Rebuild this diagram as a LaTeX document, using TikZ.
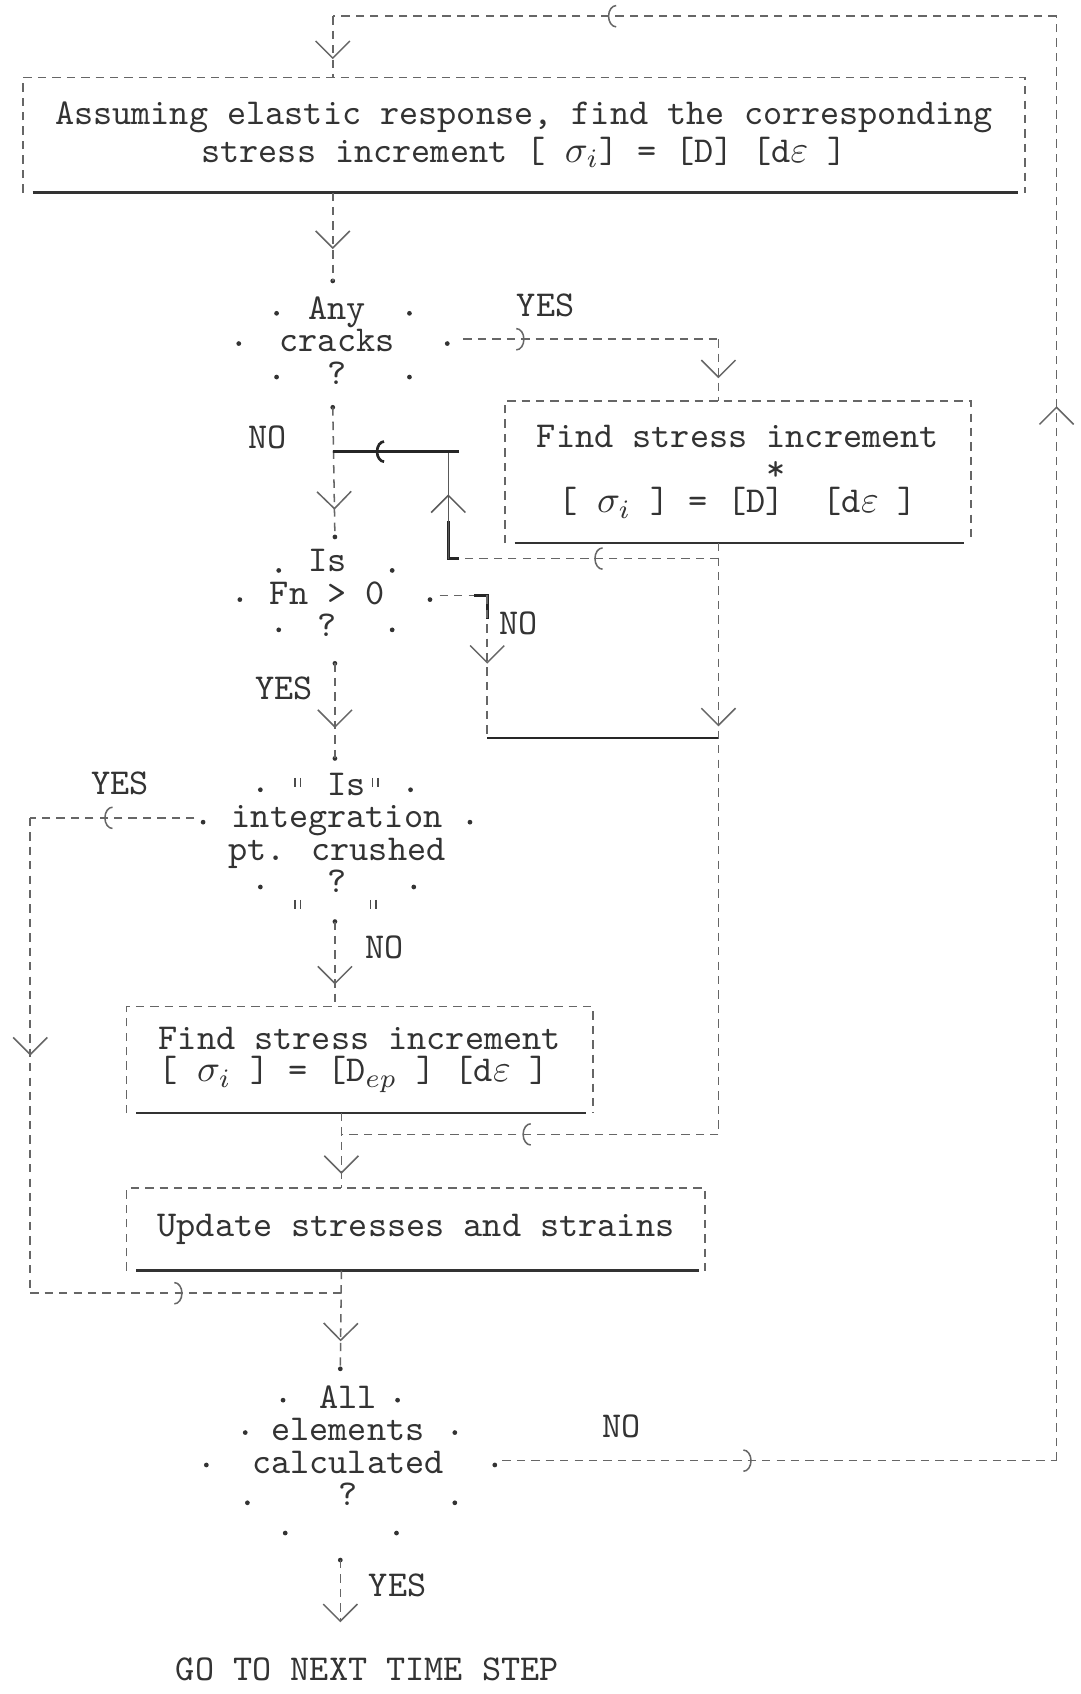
\documentclass[tikz,border=0pt]{standalone}
\usepackage{amsmath,amssymb}
\usepackage{fontspec}
\usetikzlibrary{arrows.meta,decorations.markings}

\tikzset{
  txt/.style={font=\ttfamily\fontsize{9.6}{8.54}\selectfont, text=black!80, inner sep=0pt},
  procbox/.style={txt, align=center},
  link/.style={draw=black!60, line width=0.4pt, dash pattern=on 2.2pt off 1.6pt},
  pen/.style={draw=black!85, line width=0.7pt},
  bar/.style={draw=black!65, line width=0.4pt},
  base/.style={draw=black!80, line width=0.7pt},
  varr/.style={postaction={decorate,decoration={markings,mark=at position #1 with {\arrow{Straight Barb[length=4.5pt,width=9pt]}}}}},
  harr/.style={postaction={decorate,decoration={markings,mark=at position #1 with {\arrow{Arc Barb[length=2.2pt,width=6pt]}}}}},
}
\newcommand\procframe[1]{%
  \draw[link] (#1.south west) -- (#1.north west) -- (#1.north east) -- (#1.south east);
  \draw[base] ([xshift=0.9mm]#1.south west) -- ([xshift=-0.6mm]#1.south east);}

\begin{document}
\begin{tikzpicture}[x=0.1mm, y=-0.1mm]
  \path[fill=white] (0,0) rectangle (1000,1568); \useasboundingbox (0,0) rectangle (1000,1568);
  % boxes
  \node[procbox, minimum width=92.6mm, minimum height=10.5mm] (elastic) at (485,125) {Assuming elastic response, find the corresponding\\stress increment [ $\sigma_i$] = [D] [d$\varepsilon$ ]};
  \node[procbox, minimum width=43mm, minimum height=13mm] (crackbox) at (683,437) {Find stress increment\\\phantom{0000}*\\{[} $\sigma_i$ ] = [D]~~[d$\varepsilon$ ]};
  \node[procbox, align=left, minimum width=43mm, minimum height=9.7mm] (plastic) at (333,981) {Find stress increment\\{[} $\sigma_i$ ] = [D$_{ep}$ ] [d$\varepsilon$ ]};
  \node[procbox, minimum width=53.4mm, minimum height=7.5mm] (update) at (385,1138) {Update stresses and strains};
  \procframe{elastic} \procframe{crackbox} \procframe{plastic} \procframe{update}
  % decisions
  \node[procbox] (crack) at (312,315) {Any\\cracks\\?};
  \node[procbox] (fn) at (303,549) {Is\\Fn > 0\\?};
  \node[procbox] (crushed) at (312,771) {\phantom{x}Is\\integration\\pt. crushed\\?};
  \node[procbox] (done) at (322,1338) {All\\elements\\calculated\\?};
  \foreach \p in {(308,260),(256,290),(379,290),(221,318),(414,318),(256,349),(379,349),(308,377),
                  (310,497),(258,528),(363,528),(222,555),(398,555),(258,583),(363,583),(310,614),
                  (310,702),(241,731),(380,731),(188,761),(435,761),(241,821),(383,821),(310,853),
                  (315,1267),(262,1296),(368,1296),(227,1326),(421,1326),(191,1356),(458,1356),
                  (229,1391),(421,1391),(264,1419),(367,1419),(315,1444)}
    \fill[black!80] \p circle (0.22mm);
  \foreach \q in {(275,725),(347,725),(275,838),(345,838)}
    \draw[black!70, line width=0.35pt] \q ++(-2,-5) -- ++(0,8) ++(5,-8) -- ++(0,8);
  % labels
  \node[txt] (yes-crack) at (505,283) {YES};
  \node[txt] (no-crack) at (248,405) {NO};
  \node[txt] (no-fn) at (480,577) {NO};
  \node[txt] (yes-fn) at (263,637) {YES};
  \node[txt] (yes-crush) at (111,725) {YES};
  \node[txt] (no-crush) at (356,877) {NO};
  \node[txt] (no-done) at (575,1320) {NO};
  \node[txt] (yes-done) at (368,1467) {YES};
  \node[txt] (next) at (340,1545) {GO TO NEXT TIME STEP};
  % points where the connectors leave the decisions
  \coordinate (crack-in) at (308,260); \coordinate (crack-yes) at (429,314); \coordinate (crack-no) at (308,377);
  \coordinate (fn-in) at (310,497); \coordinate (fn-no) at (407,551); \coordinate (fn-yes) at (310,614);
  \coordinate (crush-in) at (310,702); \coordinate (crush-yes) at (180,757); \coordinate (crush-no) at (310,853);
  \coordinate (done-in) at (315,1267); \coordinate (done-no) at (465,1352); \coordinate (done-yes) at (315,1444);
  % corners
  \coordinate (loop-br) at (978,1352); \coordinate (loop-tr) at (978,15); \coordinate (loop-tl) at (308,15);
  \coordinate (yes-c) at (665,314);
  \coordinate (ret-r) at (665,517); \coordinate (ret-l) at (415,517); \coordinate (ret-t) at (415,418);
  \coordinate (fn-c) at (451,551); \coordinate (fn-b) at (451,683);
  \coordinate (merge) at (665,1050); \coordinate (merge-l) at (316,1050);
  \coordinate (crush-l) at (28,757); \coordinate (crush-b) at (28,1197); \coordinate (rejoin) at (316,1197);
  % connectors
  \draw[link, harr=0.45] (done-no) -- (loop-br);
  \draw[link, varr=0.73] (loop-br) -- (loop-tr);
  \draw[link, harr=0.62] (loop-tr) -- (loop-tl);
  \draw[link, varr=0.7] (loop-tl) -- (loop-tl |- elastic.north);
  \draw[link, varr=0.64] (elastic.south -| crack-in) -- (crack-in);
  \draw[link, harr=0.24] (crack-yes) -- (yes-c);
  \draw[link, varr=0.63] (yes-c) -- (yes-c |- crackbox.north);
  \draw[link, varr=0.79] (crack-no) -- (fn-in);
  \draw[link, varr=0.31] (crackbox.south -| yes-c) -- (merge);
  \draw[link, harr=0.46] (ret-r) -- (ret-l);
  \draw[pen] ([xshift=1mm]ret-l) -- (ret-l) -- ([yshift=3.5mm]ret-l);
  \draw[bar, varr=0.6] (ret-l) -- (ret-t);
  \draw[pen, harr=0.66] ([xshift=1mm]ret-t) -- (ret-t -| crack-no);
  \draw[link] (fn-no) -- (fn-c);
  \draw[pen] ([xshift=-1.2mm]fn-c) -- (fn-c) -- ([yshift=-2.2mm]fn-c);
  \draw[link, varr=0.48] (fn-c) -- (fn-b);
  \draw[pen] (fn-b) -- (fn-b -| merge);
  \draw[link, varr=0.68] (fn-yes) -- (crush-in);
  \draw[link, harr=0.55] (crush-yes) -- (crush-l);
  \draw[link, varr=0.5] (crush-l) -- (crush-b);
  \draw[link, harr=0.49] (crush-b) -- (rejoin);
  \draw[link, varr=0.74] (crush-no) -- (crush-no |- plastic.north);
  \draw[link, harr=0.52] (merge) -- (merge-l);
  \draw[link, varr=0.81] (plastic.south -| merge-l) -- (update.north -| merge-l);
  \draw[link, varr=0.72] (update.south -| rejoin) -- (done-in);
  \draw[link, -{Straight Barb[length=4.5pt,width=9pt]}, shorten >=3.2mm] (done-yes) -- (next.north -| done-yes);
\end{tikzpicture}
\end{document}
